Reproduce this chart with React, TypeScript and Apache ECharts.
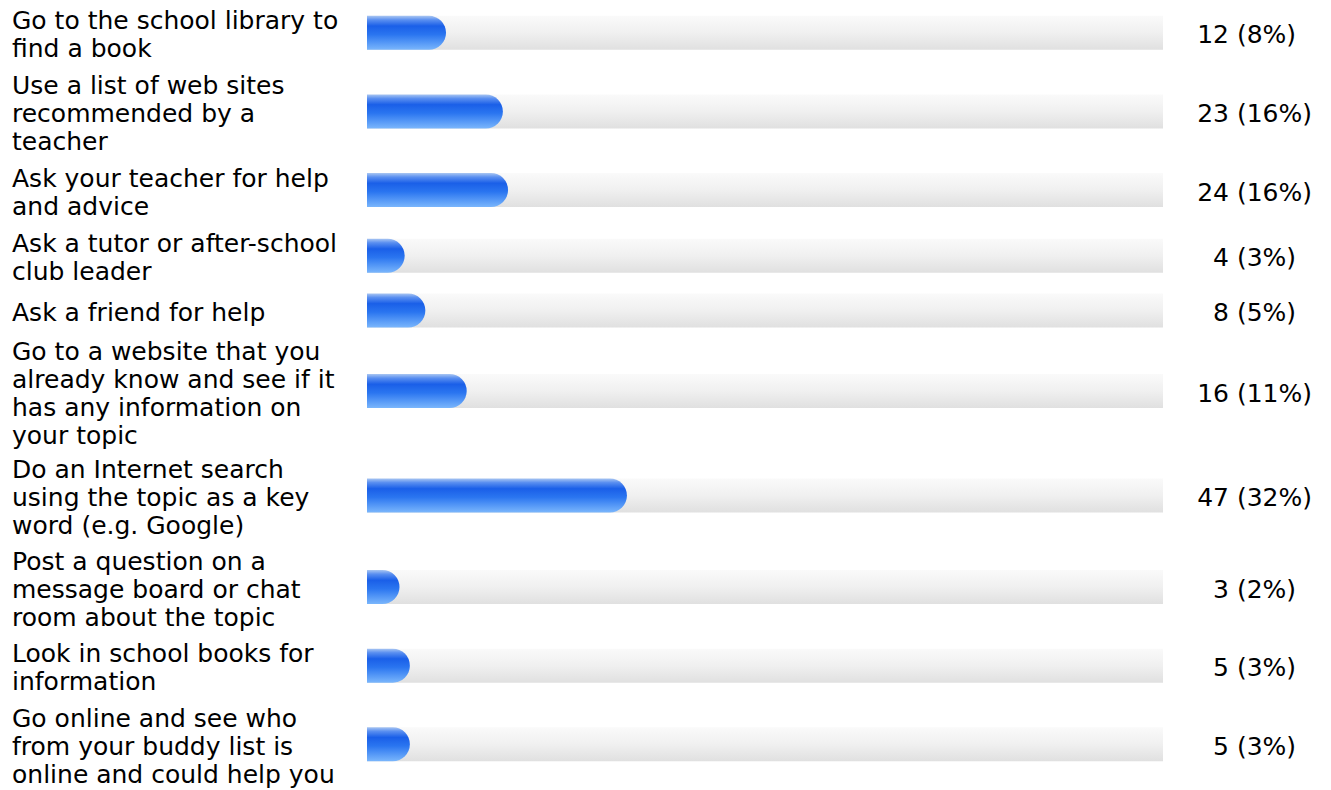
import React, { useEffect, useRef } from "react";
import * as echarts from "echarts";

const categories: string[] = [
  "Go to the school library to\nfind a book",
  "Use a list of web sites\nrecommended by a\nteacher",
  "Ask your teacher for help\nand advice",
  "Ask a tutor or after-school\nclub leader",
  "Ask a friend for help",
  "Go to a website that you\nalready know and see if it\nhas any information on\nyour topic",
  "Do an Internet search\nusing the topic as a key\nword (e.g. Google)",
  "Post a question on a\nmessage board or chat\nroom about the topic",
  "Look in school books for\ninformation",
  "Go online and see who\nfrom your buddy list is\nonline and could help you",
];
const counts: number[] = [12, 23, 24, 4, 8, 16, 47, 3, 5, 5];
const percents: number[] = [8, 16, 16, 3, 5, 11, 32, 2, 3, 3];

const FONT = '25px "DejaVu Sans"';
const LINE_H = 28;
const BAR_H = 34;
const X_MAX = 154;

function rowHeight(lines: number) {
  return lines === 1 ? 44 : 26 * lines + 14;
}

export default function App() {
  const ref = useRef<HTMLDivElement>(null);
  useEffect(() => {
    if (!ref.current) return;
    const chart = echarts.init(ref.current, null, { renderer: "svg" });

    const centers: number[] = [];
    let acc = 0;
    categories.forEach((c) => {
      const h = rowHeight(c.split("\n").length);
      centers.push(acc + h / 2);
      acc += h;
    });
    const total = acc;

    const cv = document.createElement("canvas");
    const ctx = cv.getContext("2d")!;
    ctx.font = FONT;

    const trackFill = new echarts.graphic.LinearGradient(0, 0, 0, 1, [
      { offset: 0, color: "#fafafa" },
      { offset: 0.5, color: "#f0f0f0" },
      { offset: 1, color: "#e0e0e0" },
    ]);
    const barFill = new echarts.graphic.LinearGradient(0, 0, 0, 1, [
      { offset: 0, color: "#a9c6f2" },
      { offset: 0.12, color: "#5a8ff0" },
      { offset: 0.3, color: "#1a5fe8" },
      { offset: 0.55, color: "#2a75f0" },
      { offset: 1, color: "#7ab6fc" },
    ]);

    const data = counts.map((v, i) => [v, centers[i], i]);

    chart.setOption({
      animation: false,
      grid: { left: 367, right: 1331 - 1163, top: -2, height: total },
      xAxis: { type: "value", min: 0, max: X_MAX, show: false },
      yAxis: { type: "value", min: 0, max: total, inverse: true, show: false },
      series: [
        {
          type: "custom",
          clip: false,
          encode: { x: 0, y: 1 },
          data,
          renderItem: (params: any, api: any) => {
            const v = api.value(0);
            const yc = api.value(1);
            const idx = api.value(2);
            const start = api.coord([0, yc]);
            const end = api.coord([v, yc]);
            const trackEnd = api.coord([X_MAX, yc]);
            const cap = BAR_H / 2;
            const top = start[1] - BAR_H / 2;
            const numText = String(counts[idx]);
            const fullText = `${numText} (${percents[idx]}%)`;
            const numW = ctx.measureText(numText).width;
            const numRight = trackEnd[0] + 66;
            return {
              type: "group",
              children: [
                {
                  type: "rect",
                  shape: { x: start[0], y: top, width: trackEnd[0] - start[0], height: BAR_H },
                  style: { fill: trackFill },
                },
                {
                  type: "rect",
                  shape: {
                    x: start[0],
                    y: top,
                    width: end[0] - start[0] + cap,
                    height: BAR_H,
                    r: [0, cap, cap, 0],
                  },
                  style: { fill: barFill },
                },
                {
                  type: "text",
                  x: 12,
                  y: start[1] + 2,
                  style: {
                    text: categories[idx],
                    font: FONT,
                    fill: "#000",
                    align: "left",
                    verticalAlign: "middle",
                    lineHeight: LINE_H,
                  },
                },
                {
                  type: "text",
                  x: numRight - numW,
                  y: start[1] + 2,
                  style: {
                    text: fullText,
                    font: FONT,
                    fill: "#000",
                    align: "left",
                    verticalAlign: "middle",
                  },
                },
              ],
            };
          },
        },
      ],
    });
    return () => chart.dispose();
  }, []);
  return (
    <div
      ref={ref}
      style={{ position: "fixed", left: 0, top: 0, width: 1331, height: 790, background: "#fff" }}
    />
  );
}
